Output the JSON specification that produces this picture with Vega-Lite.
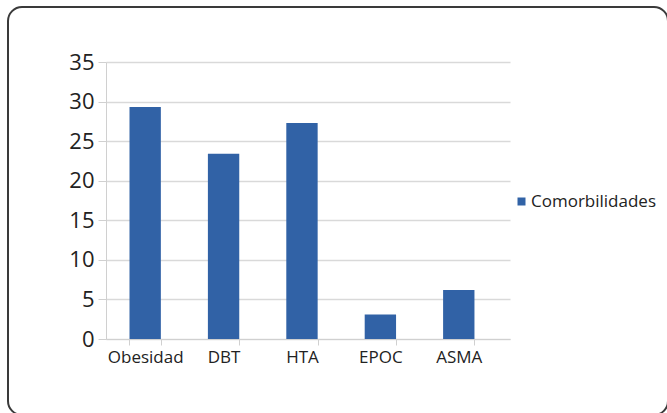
{
  "$schema": "https://vega.github.io/schema/vega-lite/v6.json",
  "width": 660,
  "height": 408,
  "autosize": {"type": "none"},
  "padding": {"left": 8, "top": 7, "right": 0, "bottom": 0},
  "background": "white",
  "data": {
    "values": [
      {"categoria": "Obesidad", "valor": 29.3},
      {"categoria": "DBT", "valor": 23.4},
      {"categoria": "HTA", "valor": 27.3},
      {"categoria": "EPOC", "valor": 3.1},
      {"categoria": "ASMA", "valor": 6.2}
    ]
  },
  "mark": {"type": "bar"},
  "encoding": {
    "x": {
      "field": "categoria",
      "type": "nominal",
      "sort": null,
      "scale": {"range": [98, 502], "paddingInner": 0.6, "paddingOuter": 0.3765, "align": 0.398},
      "axis": {
        "title": null,
        "labelAngle": 0,
        "offset": -76,
        "tickBand": "extent",
        "grid": false,
        "domainColor": "#d0d0d0",
        "tickColor": "#d0d0d0",
        "tickSize": 6,
        "labelPadding": 4,
        "labelFont": "Open Sans",
        "labelFontSize": 17,
        "labelColor": "#222222"
      }
    },
    "y": {
      "field": "valor",
      "type": "quantitative",
      "scale": {"domain": [0, 35], "range": [332, 55], "nice": false, "zero": true},
      "axis": {
        "title": null,
        "values": [0, 5, 10, 15, 20, 25, 30, 35],
        "offset": -98,
        "grid": true,
        "gridColor": "#d9d9d9",
        "gridWidth": 1.3,
        "domainColor": "#d0d0d0",
        "tickColor": "#d0d0d0",
        "tickSize": 8,
        "labelPadding": 4,
        "labelFont": "Open Sans",
        "labelFontSize": 22,
        "labelColor": "#222222"
      }
    },
    "color": {
      "datum": "Comorbilidades",
      "scale": {"range": ["#3162a6"]},
      "legend": {
        "title": null,
        "orient": "none",
        "legendX": 505,
        "legendY": 186,
        "padding": 0,
        "symbolType": "square",
        "symbolSize": 64,
        "labelOffset": 1,
        "labelFont": "Open Sans",
        "labelFontSize": 17,
        "labelColor": "#222222"
      }
    }
  },
  "config": {
    "view": {"stroke": "#3a3a3a", "strokeWidth": 2, "cornerRadius": 14}
  }
}
